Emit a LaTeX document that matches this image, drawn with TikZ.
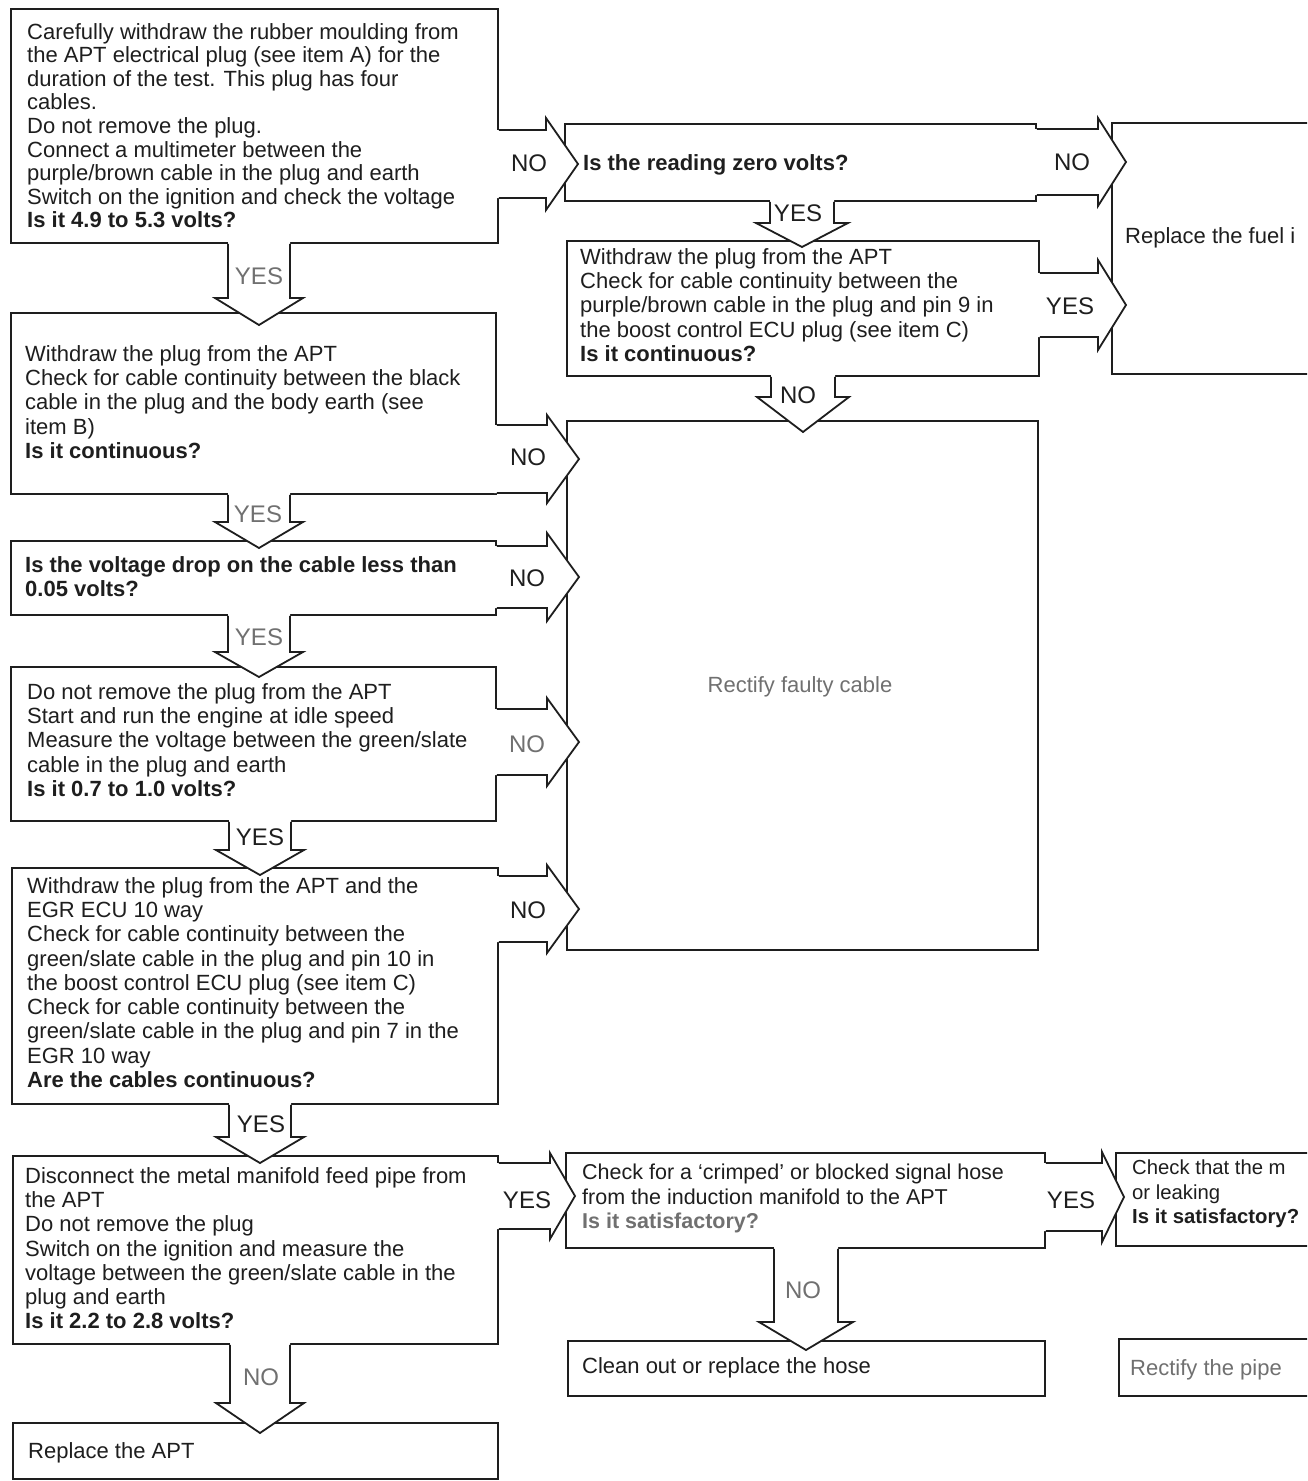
\documentclass[tikz,border=0pt]{standalone}
\usepackage{fontspec}
\setmainfont{Liberation Sans}
\usetikzlibrary{calc}
\definecolor{ink}{HTML}{1E1E1E}
\definecolor{soft}{HTML}{707070}
\tikzset{
 box/.style={draw=ink, line width=1.8pt, fill=white, inner sep=0pt, anchor=north west, rectangle},
 txt/.style={inner sep=0pt, anchor=north west, align=left, font=\fontsize{22}{24.3}\selectfont, text=ink, execute at begin node=\strut},
 lab/.style={inner sep=0pt, font=\fontsize{24}{26}\selectfont, text=ink},
 labsoft/.style={lab, text=soft},
 blk/.style={draw=ink, line width=1.8pt, line join=miter},
}
% box: name, x1, y1, x2, y2
\newcommand{\mybox}[5]{\node[box, minimum width={(#4-#2)*1pt}, minimum height={(#5-#3)*1pt}] (#1) at (#2,#3) {};}
% horizontal block arrow: src, tgt, yc, shaft half, head half, head length, tip depth
\newcommand{\harr}[7]{%
 \coordinate (b) at (#1.east |- 0,#3);
 \coordinate (t) at ($(#2.west |- 0,#3)+(#7,0)$);
 \fill[white] ($(b)+(-3,-#4)$) -- ($(t)+(-#6,-#4)$) -- ($(t)+(-#6,-#5)$) -- (t) -- ($(t)+(-#6,#5)$) -- ($(t)+(-#6,#4)$) -- ($(b)+(-3,#4)$) -- cycle;
 \draw[blk] ($(b)+(0,-#4)$) -- ($(t)+(-#6,-#4)$) -- ($(t)+(-#6,-#5)$) -- (t) -- ($(t)+(-#6,#5)$) -- ($(t)+(-#6,#4)$) -- ($(b)+(0,#4)$);
}
% vertical block arrow: src, tgt, xc, shaft half, head half, head length, tip depth
\newcommand{\varr}[7]{%
 \coordinate (b) at (#1.south -| #3,0);
 \coordinate (t) at ($(#2.north -| #3,0)+(0,#7)$);
 \fill[white] ($(b)+(-#4,-3)$) -- ($(t)+(-#4,-#6)$) -- ($(t)+(-#5,-#6)$) -- (t) -- ($(t)+(#5,-#6)$) -- ($(t)+(#4,-#6)$) -- ($(b)+(#4,-3)$) -- cycle;
 \draw[blk] ($(b)+(-#4,0)$) -- ($(t)+(-#4,-#6)$) -- ($(t)+(-#5,-#6)$) -- (t) -- ($(t)+(#5,-#6)$) -- ($(t)+(#4,-#6)$) -- ($(b)+(#4,0)$);
}
\begin{document}
\begin{tikzpicture}[x=1pt,y=-1pt]
\useasboundingbox (0,0) rectangle (1307,1481);
\fill[white] (0,0) rectangle (1307,1481);
\clip (0,0) rectangle (1307,1481);
% boxes
\mybox{b1}{10}{8}{497}{242}
\mybox{b2}{10}{312}{495}{493}
\mybox{b3}{10}{540}{495}{614}
\mybox{b4}{10}{666}{495}{820}
\mybox{b5}{11}{867}{497}{1103}
\mybox{b6}{12}{1155}{497}{1343}
\mybox{b7}{12}{1422}{497}{1478}
\mybox{zero}{564}{123}{1035}{200}
\mybox{z2}{566}{240}{1038}{375}
\mybox{fuel}{1111}{122}{1330}{373}
\mybox{rect}{566}{420}{1037}{949}
\mybox{crimp}{565}{1152}{1044}{1247}
\mybox{checkm}{1115}{1152}{1330}{1245}
\mybox{clean}{567}{1340}{1044}{1395}
\mybox{pipe}{1118}{1338}{1330}{1395}
% horizontal arrows
\harr{b1}{zero}{164}{34}{46}{32}{14}
\harr{zero}{fuel}{162}{33}{44}{28}{15}
\harr{z2}{fuel}{305}{32}{45}{28}{15}
\harr{b2}{rect}{459}{34}{44}{32}{13}
\harr{b3}{rect}{577}{31}{44}{32}{13}
\harr{b4}{rect}{742}{33}{44}{32}{13}
\harr{b5}{rect}{909}{33}{44}{32}{13}
\harr{b6}{crimp}{1196}{33}{43}{25}{10}
\harr{crimp}{checkm}{1197}{34}{45}{22}{9}
% vertical arrows
\varr{zero}{z2}{802}{32}{46}{24}{7}
\varr{z2}{rect}{803}{32}{46}{35}{12}
\varr{b1}{b2}{259}{31}{44}{27}{13}
\varr{b2}{b3}{259}{31}{44}{26}{8}
\varr{b3}{b4}{259}{31}{44}{25}{11}
\varr{b4}{b5}{260}{31}{44}{25}{8}
\varr{b5}{b6}{260}{31}{44}{26}{8}
\varr{crimp}{clean}{806}{32}{47}{28}{10}
\varr{b6}{b7}{260}{30}{44}{30}{11}
% texts
\node[txt, font=\fontsize{22}{23.6}\selectfont] (b1t) at (27,23) {Carefully withdraw the rubber moulding from\\the APT electrical plug (see item A) for the\\duration of the test. This plug has four\\cables.\\Do not remove the plug.\\Connect a multimeter between the\\purple/brown cable in the plug and earth\\Switch on the ignition and check the voltage\\\textbf{Is it 4.9 to 5.3 volts?}};
\node[txt] (b2t) at (25,345) {Withdraw the plug from the APT\\Check for cable continuity between the black\\cable in the plug and the body earth (see\\item B)\\\textbf{Is it continuous?}};
\node[txt] (b3t) at (25,556) {\textbf{Is the voltage drop on the cable less than}\\\textbf{0.05 volts?}};
\node[txt] (b4t) at (27,683) {Do not remove the plug from the APT\\Start and run the engine at idle speed\\Measure the voltage between the green/slate\\cable in the plug and earth\\\textbf{Is it 0.7 to 1.0 volts?}};
\node[txt] (b5t) at (27,877) {Withdraw the plug from the APT and the\\EGR ECU 10 way\\Check for cable continuity between the\\green/slate cable in the plug and pin 10 in\\the boost control ECU plug (see item C)\\Check for cable continuity between the\\green/slate cable in the plug and pin 7 in the\\EGR 10 way\\\textbf{Are the cables continuous?}};
\node[txt] (b6t) at (25,1167) {Disconnect the metal manifold feed pipe from\\the APT\\Do not remove the plug\\Switch on the ignition and measure the\\voltage between the green/slate cable in the\\plug and earth\\\textbf{Is it 2.2 to 2.8 volts?}};
\node[txt] (b7t) at (28,1441) {Replace the APT};
\node[txt] (zerot) at (583,153) {\textbf{Is the reading zero volts?}};
\node[txt] (z2t) at (580,248) {Withdraw the plug from the APT\\Check for cable continuity between the\\purple/brown cable in the plug and pin 9 in\\the boost control ECU plug (see item C)\\\textbf{Is it continuous?}};
\node[txt] (fuelt) at (1125,226) {Replace the fuel i};
\node[txt, font=\fontsize{21.5}{24.3}\selectfont] (crimpt) at (582,1164) {Check for a ‘crimped’ or blocked signal hose\\from the induction manifold to the APT\\\textcolor{soft}{\textbf{Is it satisfactory?}}};
\node[txt, font=\fontsize{20.3}{24.3}\selectfont] (checkmt) at (1132,1160) {Check that the m\\or leaking\\\textbf{Is it satisfactory?}};
\node[txt] (cleant) at (582,1356) {Clean out or replace the hose};
\node[txt, text=soft] (pipet) at (1130,1358) {Rectify the pipe};
\node[inner sep=0pt, font=\fontsize{22}{24.3}\selectfont, text=soft] (rectt) at (800,687) {Rectify faulty cable};
% labels
\node[lab] (l1) at (529,163) {NO};
\node[lab] (l2) at (1072,162) {NO};
\node[lab] (l3) at (798,213) {YES};
\node[lab] (l4) at (1070,306) {YES};
\node[lab] (l5) at (798,395) {NO};
\node[labsoft] (l6) at (259,276) {YES};
\node[lab] (l7) at (528,457) {NO};
\node[labsoft] (l8) at (258,514) {YES};
\node[lab] (l9) at (527,578) {NO};
\node[labsoft] (l10) at (259,637) {YES};
\node[labsoft] (l11) at (527,744) {NO};
\node[lab] (l12) at (260,837) {YES};
\node[lab] (l13) at (528,910) {NO};
\node[lab] (l14) at (261,1124) {YES};
\node[lab] (l15) at (527,1200) {YES};
\node[labsoft] (l16) at (803,1290) {NO};
\node[lab] (l17) at (1071,1200) {YES};
\node[labsoft] (l18) at (261,1377) {NO};
\end{tikzpicture}
\end{document}
